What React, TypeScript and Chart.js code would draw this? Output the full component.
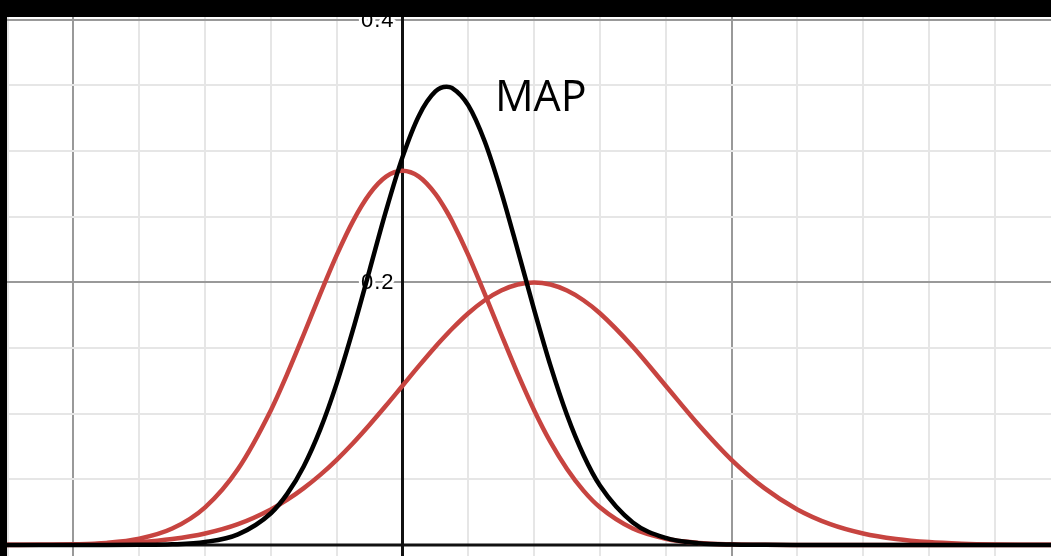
import { useEffect, useRef } from "react";
import { Chart, registerables } from "chart.js";

Chart.register(...registerables);

// sample positions along the horizontal axis
const xs = [
  -6, -5.5, -5, -4.5, -4, -3.5, -3, -2.5, -2,
  -1.75, -1.5, -1.25, -1, -0.75, -0.5, -0.25,
  0, 0.25, 0.5, 0.67, 0.75,
  1, 1.25, 1.5, 1.75, 2, 2.25, 2.5, 2.75, 3,
  3.5, 4, 4.5, 5, 5.5, 6, 6.5, 7, 7.5, 8, 8.5, 9, 9.5, 10,
];

// red curve centred at 0 (taller, narrower)
const redA = [
  0.0, 0.0001, 0.0005, 0.0016, 0.0048, 0.0125, 0.0287, 0.0579, 0.1027,
  0.1305, 0.1605, 0.1913, 0.2208, 0.2469, 0.2674, 0.2805,
  0.285, 0.2805, 0.2674, 0.2542, 0.2469,
  0.2208, 0.1913, 0.1605, 0.1305, 0.1027, 0.0783, 0.0579, 0.0414, 0.0287,
  0.0125, 0.0048, 0.0016, 0.0005, 0.0001, 0, 0, 0, 0, 0, 0, 0, 0, 0,
];

// red curve centred at 2 (wider)
const redB = [
  0.0001, 0.0002, 0.0004, 0.001, 0.0022, 0.0046, 0.0088, 0.0159, 0.0271,
  0.0345, 0.0433, 0.0534, 0.0649, 0.0777, 0.0916, 0.1062,
  0.1213, 0.1364, 0.151, 0.1603, 0.1645,
  0.1765, 0.1864, 0.1938, 0.1984, 0.2, 0.1984, 0.1938, 0.1864, 0.1765,
  0.151, 0.1213, 0.0916, 0.0649, 0.0433, 0.0271, 0.0159, 0.0088, 0.0046, 0.0022, 0.001, 0.0004, 0.0002, 0.0001,
];

// black MAP curve
const mapCurve = [
  0, 0, 0, 0, 0.0001, 0.0005, 0.0023, 0.0081, 0.0242,
  0.0391, 0.06, 0.088, 0.1231, 0.1644, 0.2094, 0.2546,
  0.2954, 0.327, 0.3454, 0.349, 0.3481,
  0.3348, 0.3073, 0.269, 0.2248, 0.1793, 0.1364, 0.099, 0.0686, 0.0453,
  0.0172, 0.0054, 0.0014, 0.0003, 0.0001, 0, 0, 0, 0, 0, 0, 0, 0, 0,
];

const xGridTicks = [-6, -5, -4, -3, -2, -1, 0, 1, 2, 3, 4, 5, 6, 7, 8, 9];
const yGridTicks = [0, 0.05, 0.1, 0.15, 0.2, 0.25, 0.3, 0.35, 0.4];
const yLabelValues = [0.2, 0.4];
const yLabelTexts = ["0.2", "0.4"];
const curveLabel = "MAP";
const curveLabelPos = { x: 1.405, y: 0.3305 };

const X_MIN = -6.0106;
const X_MAX = 9.8556;
const Y_MIN = -0.00838;
const Y_MAX = 0.40213;

const RED = "#c74440";

const isMult = (v: number, m: number) => Math.abs(v / m - Math.round(v / m)) < 1e-6;

const overlay = {
  id: "overlay",
  beforeDatasetsDraw(chart: any) {
    const { ctx, chartArea, scales } = chart;
    const xs0 = scales.x.getPixelForValue(0);
    const ys0 = scales.y.getPixelForValue(0);
    ctx.save();
    // axes
    ctx.strokeStyle = "#111";
    ctx.lineWidth = 3;
    ctx.beginPath();
    ctx.moveTo(xs0, chartArea.top);
    ctx.lineTo(xs0, chartArea.bottom);
    ctx.moveTo(chartArea.left, ys0);
    ctx.lineTo(chartArea.right, ys0);
    ctx.stroke();
    // y labels
    ctx.font = '22px "Liberation Sans", Arial, sans-serif';
    try {
      (ctx as any).letterSpacing = "1px";
    } catch (e) {}
    ctx.textAlign = "right";
    ctx.textBaseline = "middle";
    ctx.lineJoin = "round";
    yLabelValues.forEach((v, i) => {
      const py = scales.y.getPixelForValue(v) + 1;
      const px = xs0 - 8;
      ctx.lineWidth = 6;
      ctx.strokeStyle = "#fff";
      ctx.strokeText(yLabelTexts[i], px, py);
      ctx.fillStyle = "#000";
      ctx.fillText(yLabelTexts[i], px, py);
    });
    ctx.restore();
  },
  afterDatasetsDraw(chart: any) {
    const { ctx, scales } = chart;
    ctx.save();
    ctx.font = '43px "Open Sans", "Noto Sans", sans-serif';
    ctx.textAlign = "left";
    ctx.textBaseline = "alphabetic";
    ctx.fillStyle = "#000";
    ctx.fillText(
      curveLabel,
      scales.x.getPixelForValue(curveLabelPos.x),
      scales.y.getPixelForValue(curveLabelPos.y)
    );
    ctx.restore();
  },
};

export default function App() {
  const ref = useRef<HTMLCanvasElement | null>(null);

  useEffect(() => {
    if (!ref.current) return;
    const toPts = (ys: number[]) => xs.map((x, i) => ({ x, y: ys[i] }));
    const lineStyle = {
      borderWidth: 4.5,
      pointRadius: 0,
      cubicInterpolationMode: "monotone",
      fill: false,
      borderJoinStyle: "round",
      borderCapStyle: "round",
    };
    const chart = new Chart(ref.current, {
      type: "line",
      data: {
        datasets: [
          { label: "MAP", data: toPts(mapCurve), borderColor: "#000", ...lineStyle },
          { label: "A", data: toPts(redA), borderColor: RED, ...lineStyle },
          { label: "B", data: toPts(redB), borderColor: RED, ...lineStyle },
        ],
      },
      options: {
        animation: false,
        responsive: false,
        events: [],
        layout: { padding: 0 },
        plugins: {
          legend: { display: false },
          tooltip: { enabled: false },
        },
        scales: {
          x: {
            type: "linear",
            min: X_MIN,
            max: X_MAX,
            ticks: { display: false, autoSkip: false },
            border: { display: false },
            afterBuildTicks: (s: any) => {
              s.ticks = xGridTicks.map((v) => ({ value: v }));
            },
            grid: {
              drawTicks: false,
              color: (c: any) => {
                const v = c.tick ? c.tick.value : 1;
                if (v === 0) return "rgba(0,0,0,0)";
                return isMult(v, 5) ? "#999999" : "#e6e6e6";
              },
              lineWidth: 2,
            },
          },
          y: {
            type: "linear",
            min: Y_MIN,
            max: Y_MAX,
            ticks: { display: false, autoSkip: false },
            border: { display: false },
            afterBuildTicks: (s: any) => {
              s.ticks = yGridTicks.map((v) => ({ value: v }));
            },
            grid: {
              drawTicks: false,
              color: (c: any) => {
                const v = c.tick ? c.tick.value : 1;
                if (v === 0) return "rgba(0,0,0,0)";
                return isMult(v, 0.2) ? "#999999" : "#e6e6e6";
              },
              lineWidth: 2,
            },
          },
        },
      },
      plugins: [overlay],
    } as any);
    return () => chart.destroy();
  }, []);

  return (
    <div
      style={{
        position: "fixed",
        left: 0,
        top: 0,
        width: 1051,
        height: 556,
        background: "#000",
        overflow: "hidden",
      }}
    >
      <canvas
        ref={ref}
        width={1044}
        height={539}
        style={{ position: "absolute", left: 7, top: 17, width: 1044, height: 539, background: "#fff" }}
      />
    </div>
  );
}
